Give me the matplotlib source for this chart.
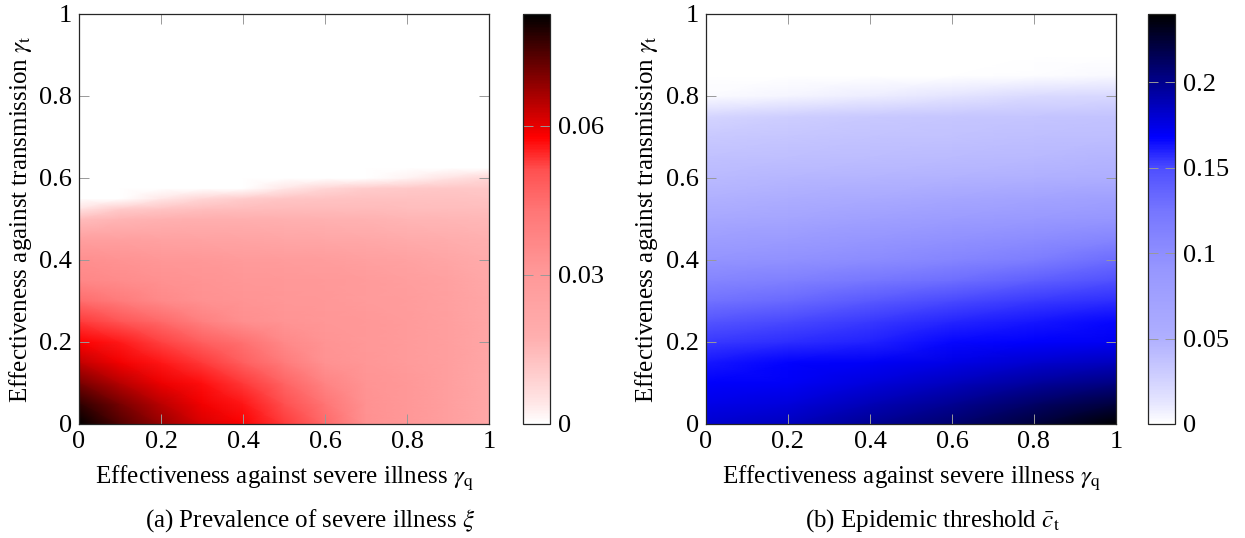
import numpy as np
import matplotlib
matplotlib.use('Agg')
import matplotlib.pyplot as plt
from matplotlib.colors import LinearSegmentedColormap

plt.rcParams['font.family'] = ['Liberation Serif', 'DejaVu Serif']
plt.rcParams['mathtext.fontset'] = 'stix'

# grid of (a): gamma_q across, gamma_t up
q_red = [0.0, 0.1, 0.2, 0.3, 0.4, 0.5, 0.6, 0.7, 0.8, 0.9, 1.0]
t_red = [0.0, 0.05, 0.1, 0.15, 0.2, 0.25, 0.3, 0.35, 0.4, 0.45, 0.5,
         0.525, 0.55, 0.575, 0.6, 0.625, 1.0]
# prevalence of severe illness xi, one row per t_red value
xi = [
    [0.0825, 0.0746, 0.0677, 0.0613, 0.0578, 0.0530, 0.0455, 0.0330, 0.0300, 0.0265, 0.0210],
    [0.0778, 0.0706, 0.0642, 0.0588, 0.0560, 0.0510, 0.0430, 0.0327, 0.0300, 0.0265, 0.0212],
    [0.0706, 0.0647, 0.0593, 0.0567, 0.0530, 0.0470, 0.0380, 0.0320, 0.0300, 0.0265, 0.0215],
    [0.0637, 0.0588, 0.0560, 0.0530, 0.0480, 0.0410, 0.0327, 0.0310, 0.0290, 0.0265, 0.0220],
    [0.0578, 0.0557, 0.0523, 0.0480, 0.0440, 0.0360, 0.0320, 0.0305, 0.0290, 0.0265, 0.0225],
    [0.0530, 0.0500, 0.0455, 0.0390, 0.0340, 0.0320, 0.0310, 0.0300, 0.0285, 0.0262, 0.0225],
    [0.0450, 0.0410, 0.0360, 0.0330, 0.0320, 0.0310, 0.0300, 0.0290, 0.0280, 0.0258, 0.0225],
    [0.0368, 0.0350, 0.0330, 0.0320, 0.0312, 0.0305, 0.0295, 0.0285, 0.0270, 0.0250, 0.0215],
    [0.0340, 0.0325, 0.0310, 0.0300, 0.0290, 0.0282, 0.0272, 0.0260, 0.0245, 0.0225, 0.0195],
    [0.0263, 0.0255, 0.0248, 0.0240, 0.0233, 0.0227, 0.0220, 0.0210, 0.0198, 0.0185, 0.0172],
    [0.0140, 0.0160, 0.0170, 0.0175, 0.0175, 0.0172, 0.0168, 0.0165, 0.0160, 0.0157, 0.0153],
    [0.0050, 0.0100, 0.0120, 0.0135, 0.0140, 0.0142, 0.0142, 0.0142, 0.0140, 0.0140, 0.0138],
    [0.0000, 0.0000, 0.0040, 0.0080, 0.0100, 0.0120, 0.0125, 0.0130, 0.0130, 0.0130, 0.0125],
    [0.0000, 0.0000, 0.0000, 0.0000, 0.0000, 0.0040, 0.0080, 0.0100, 0.0110, 0.0115, 0.0115],
    [0.0000, 0.0000, 0.0000, 0.0000, 0.0000, 0.0000, 0.0000, 0.0000, 0.0020, 0.0050, 0.0080],
    [0.0000, 0.0000, 0.0000, 0.0000, 0.0000, 0.0000, 0.0000, 0.0000, 0.0000, 0.0000, 0.0000],
    [0.0000, 0.0000, 0.0000, 0.0000, 0.0000, 0.0000, 0.0000, 0.0000, 0.0000, 0.0000, 0.0000],
]

# grid of (b)
q_blue = [0.0, 0.2, 0.4, 0.6, 0.8, 1.0]
t_blue = [0.0, 0.05, 0.1, 0.15, 0.2, 0.25, 0.3, 0.35, 0.4, 0.45, 0.5,
          0.55, 0.6, 0.65, 0.7, 0.75, 0.8, 0.85, 0.9, 1.0]
# epidemic threshold c_t, one row per t_blue value
ct = [
    [0.181, 0.186, 0.198, 0.209, 0.223, 0.240],
    [0.174, 0.178, 0.188, 0.198, 0.210, 0.222],
    [0.168, 0.170, 0.178, 0.186, 0.195, 0.203],
    [0.163, 0.167, 0.170, 0.175, 0.181, 0.186],
    [0.154, 0.157, 0.160, 0.166, 0.168, 0.171],
    [0.146, 0.150, 0.154, 0.159, 0.163, 0.166],
    [0.127, 0.133, 0.143, 0.150, 0.154, 0.157],
    [0.109, 0.115, 0.123, 0.130, 0.139, 0.149],
    [0.093, 0.096, 0.102, 0.109, 0.118, 0.131],
    [0.078, 0.083, 0.091, 0.096, 0.102, 0.109],
    [0.062, 0.067, 0.075, 0.082, 0.086, 0.091],
    [0.049, 0.054, 0.059, 0.065, 0.070, 0.075],
    [0.043, 0.045, 0.047, 0.048, 0.050, 0.052],
    [0.038, 0.039, 0.041, 0.042, 0.044, 0.046],
    [0.032, 0.034, 0.036, 0.037, 0.039, 0.040],
    [0.024, 0.029, 0.032, 0.034, 0.035, 0.036],
    [0.002, 0.005, 0.009, 0.014, 0.020, 0.022],
    [0.000, 0.000, 0.000, 0.000, 0.001, 0.003],
    [0.000, 0.000, 0.000, 0.000, 0.000, 0.000],
    [0.000, 0.000, 0.000, 0.000, 0.000, 0.000],
]

axis_ticks = [0, 0.2, 0.4, 0.6, 0.8, 1]
axis_ticklabels = ['0', '0.2', '0.4', '0.6', '0.8', '1']
red_cb_ticks = [0, 0.03, 0.06]
red_cb_labels = ['0', '0.03', '0.06']
blue_cb_ticks = [0, 0.05, 0.1, 0.15, 0.2]
blue_cb_labels = ['0', '0.05', '0.1', '0.15', '0.2']


def make_cmap(name, base):
    # white -> base colour -> black, same shape for both panels
    stops = [0.0, 0.05, 0.12, 0.21, 0.38, 0.52, 0.62, 0.70, 1.0]
    light = [255, 230, 205, 175, 150, 118, 80, 0]
    cols = []
    for s, g in zip(stops[:-1], light):
        g = g / 255
        c = [g if b == 0 else 1.0 for b in base]
        cols.append((s, c))
    cols.append((1.0, (0, 0, 0)))
    return LinearSegmentedColormap.from_list(name, cols)


red_map = make_cmap('whitered', (1, 0, 0))
blue_map = make_cmap('whiteblue', (0, 0, 1))

W, H = 1245, 538
fig = plt.figure(figsize=(W / 100, H / 100), dpi=100)


def px(x0, y0, w, h):
    return [x0 / W, 1 - (y0 + h) / H, w / W, h / H]


fs = 18    # labels
tfs = 19   # tick labels
panels = [
    (px(79, 14, 410, 410), px(523, 14, 27, 410), q_red, t_red, xi, red_map, 0.0825,
     red_cb_ticks, red_cb_labels, 310, r'(a) Prevalence of severe illness $\xi$'),
    (px(706, 14, 410, 410), px(1148, 14, 27, 410), q_blue, t_blue, ct, blue_map, 0.24,
     blue_cb_ticks, blue_cb_labels, 933, r'(b) Epidemic threshold $\bar{c}_{\mathrm{t}}$'),
]

for rect, crect, qq, tt, vals, cmap, vmax, cbt, cbl, capx, caption in panels:
    ax = fig.add_axes(rect)
    cax = fig.add_axes(crect)
    Q, T = np.meshgrid(qq, tt)
    mesh = ax.pcolormesh(Q, T, np.array(vals), cmap=cmap, vmin=0, vmax=vmax,
                         shading='gouraud', rasterized=True)
    ax.set_xlim(0, 1)
    ax.set_ylim(0, 1)
    ax.set_xticks(axis_ticks)
    ax.set_xticklabels(axis_ticklabels)
    ax.set_yticks(axis_ticks)
    ax.set_yticklabels(axis_ticklabels)
    ax.tick_params(direction='in', top=True, right=True, length=7, width=0.7,
                   color='0.6', labelsize=tfs)
    ax.tick_params(axis='x', pad=5)
    ax.tick_params(axis='y', pad=5)
    for sp in ax.spines.values():
        sp.set_linewidth(0.9)
        sp.set_color('0.15')
    ax.set_xlabel(r'Effectiveness against severe illness $\gamma_{\mathrm{q}}$',
                  fontsize=fs, labelpad=8)
    ax.set_ylabel(r'Effectiveness against transmission $\gamma_{\mathrm{t}}$',
                  fontsize=fs, labelpad=4)

    cb = fig.colorbar(mesh, cax=cax, ticks=cbt)
    cb.ax.set_yticklabels(cbl)
    cb.outline.set_linewidth(0.9)
    cb.outline.set_edgecolor('0.15')
    cax.tick_params(direction='in', left=True, right=True, length=7, width=0.7,
                    color='0.6', labelsize=tfs, pad=6)

    fig.text(capx / W, 1 - 521 / H, caption, ha='center', va='center', fontsize=fs)

fig.savefig('out.png', dpi=100)
